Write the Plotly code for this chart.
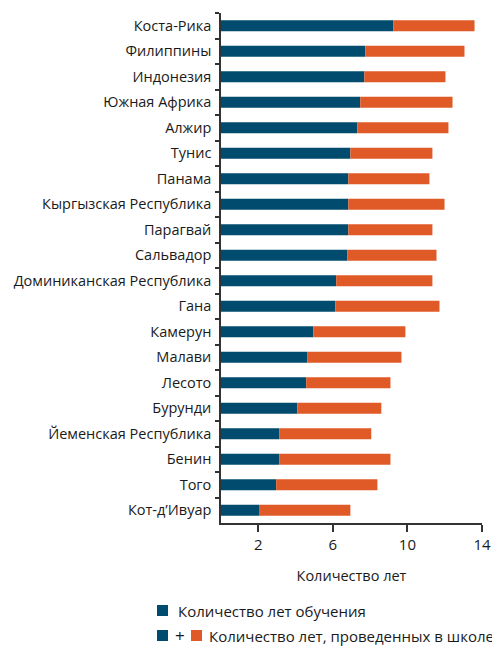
import plotly.graph_objects as go

countries = [
    "Коста-Рика", "Филиппины", "Индонезия", "Южная Африка", "Алжир",
    "Тунис", "Панама", "Кыргызская Республика", "Парагвай", "Сальвадор",
    "Доминиканская Республика", "Гана", "Камерун", "Малави", "Лесото",
    "Бурунди", "Йеменская Республика", "Бенин", "Того", "Кот-д’Ивуар",
]
years_learning = [9.25, 7.74, 7.69, 7.47, 7.31, 6.94, 6.83, 6.83, 6.83, 6.77,
                  6.18, 6.13, 4.95, 4.62, 4.57, 4.09, 3.12, 3.12, 2.96, 2.04]
years_school = [13.6, 13.06, 12.04, 12.42, 12.2, 11.34, 11.18, 11.99, 11.34, 11.56,
                11.34, 11.72, 9.89, 9.68, 9.09, 8.6, 8.06, 9.09, 8.39, 6.94]
x_ticks = [2, 6, 10, 14]

BLUE = "#004b6e"
ORANGE = "#e05a28"
FONT = "Open Sans"
TXT = "#1a1a1a"

gap = [t - l for t, l in zip(years_school, years_learning)]

fig = go.Figure()
fig.add_trace(go.Bar(y=countries, x=years_learning, orientation="h",
                     marker=dict(color=BLUE, line=dict(width=0)),
                     name="Количество лет обучения"))
fig.add_trace(go.Bar(y=countries, x=gap, orientation="h", base=years_learning,
                     marker=dict(color=ORANGE, line=dict(width=0)),
                     name="Количество лет, проведенных в школе"))

# page body has an 8px margin; design in screen pixels and shift
OFF = 8
W, H = 500 - OFF, 646 - OFF
L, R, T, B = 221 - OFF, 18, 13 - OFF, 123
pw, ph = W - L - R, H - T - B


def px(x):
    return (x - OFF - L) / pw


def py(y):
    return (H - B - (y - OFF)) / ph


shapes = [
    dict(type="rect", xref="paper", yref="paper", x0=px(157), x1=px(168),
         y0=py(616), y1=py(605), fillcolor=BLUE, line=dict(width=0)),
    dict(type="rect", xref="paper", yref="paper", x0=px(157), x1=px(168),
         y0=py(641), y1=py(630), fillcolor=BLUE, line=dict(width=0)),
    dict(type="rect", xref="paper", yref="paper", x0=px(191), x1=px(202),
         y0=py(641), y1=py(630), fillcolor=ORANGE, line=dict(width=0)),
]
annotations = [
    dict(xref="paper", yref="paper", x=px(176), y=py(611), text="Количество лет обучения",
         showarrow=False, xanchor="left", yanchor="middle",
         font=dict(family=FONT, size=15, color=TXT)),
    dict(xref="paper", yref="paper", x=px(179.5), y=py(635), text="+",
         showarrow=False, xanchor="center", yanchor="middle",
         font=dict(family=FONT, size=17, color=TXT)),
    dict(xref="paper", yref="paper", x=px(207), y=py(636),
         text="Количество лет, проведенных в школе",
         showarrow=False, xanchor="left", yanchor="middle",
         font=dict(family=FONT, size=15, color=TXT)),
]

fig.update_layout(
    width=W, height=H,
    margin=dict(l=L, r=R, t=T, b=B, pad=0),
    barmode="overlay",
    bargap=0.57,
    showlegend=False,
    plot_bgcolor="white", paper_bgcolor="white",
    font=dict(family=FONT, size=14.5, color=TXT),
    shapes=shapes,
    annotations=annotations,
    xaxis=dict(range=[0, 14], tickvals=x_ticks, ticks="outside", ticklen=7,
               tickwidth=1.5, tickcolor="#333", showline=True, linecolor="#333",
               linewidth=1.5, showgrid=False, zeroline=False,
               tickfont=dict(size=15, family=FONT, color=TXT),
               title=dict(text="Количество лет", standoff=18,
                          font=dict(size=14.5, family=FONT, color=TXT))),
    yaxis=dict(categoryorder="array", categoryarray=countries,
               range=[19.5, -0.5], ticks="outside", ticklen=4, tickwidth=1.5,
               tickcolor="#333", tickson="boundaries", showline=True,
               linecolor="#333", linewidth=1.5, showgrid=False, zeroline=False,
               ticklabelstandoff=5,
               tickfont=dict(size=14.5, family=FONT, color=TXT)),
)

fig.write_html("out.html")
